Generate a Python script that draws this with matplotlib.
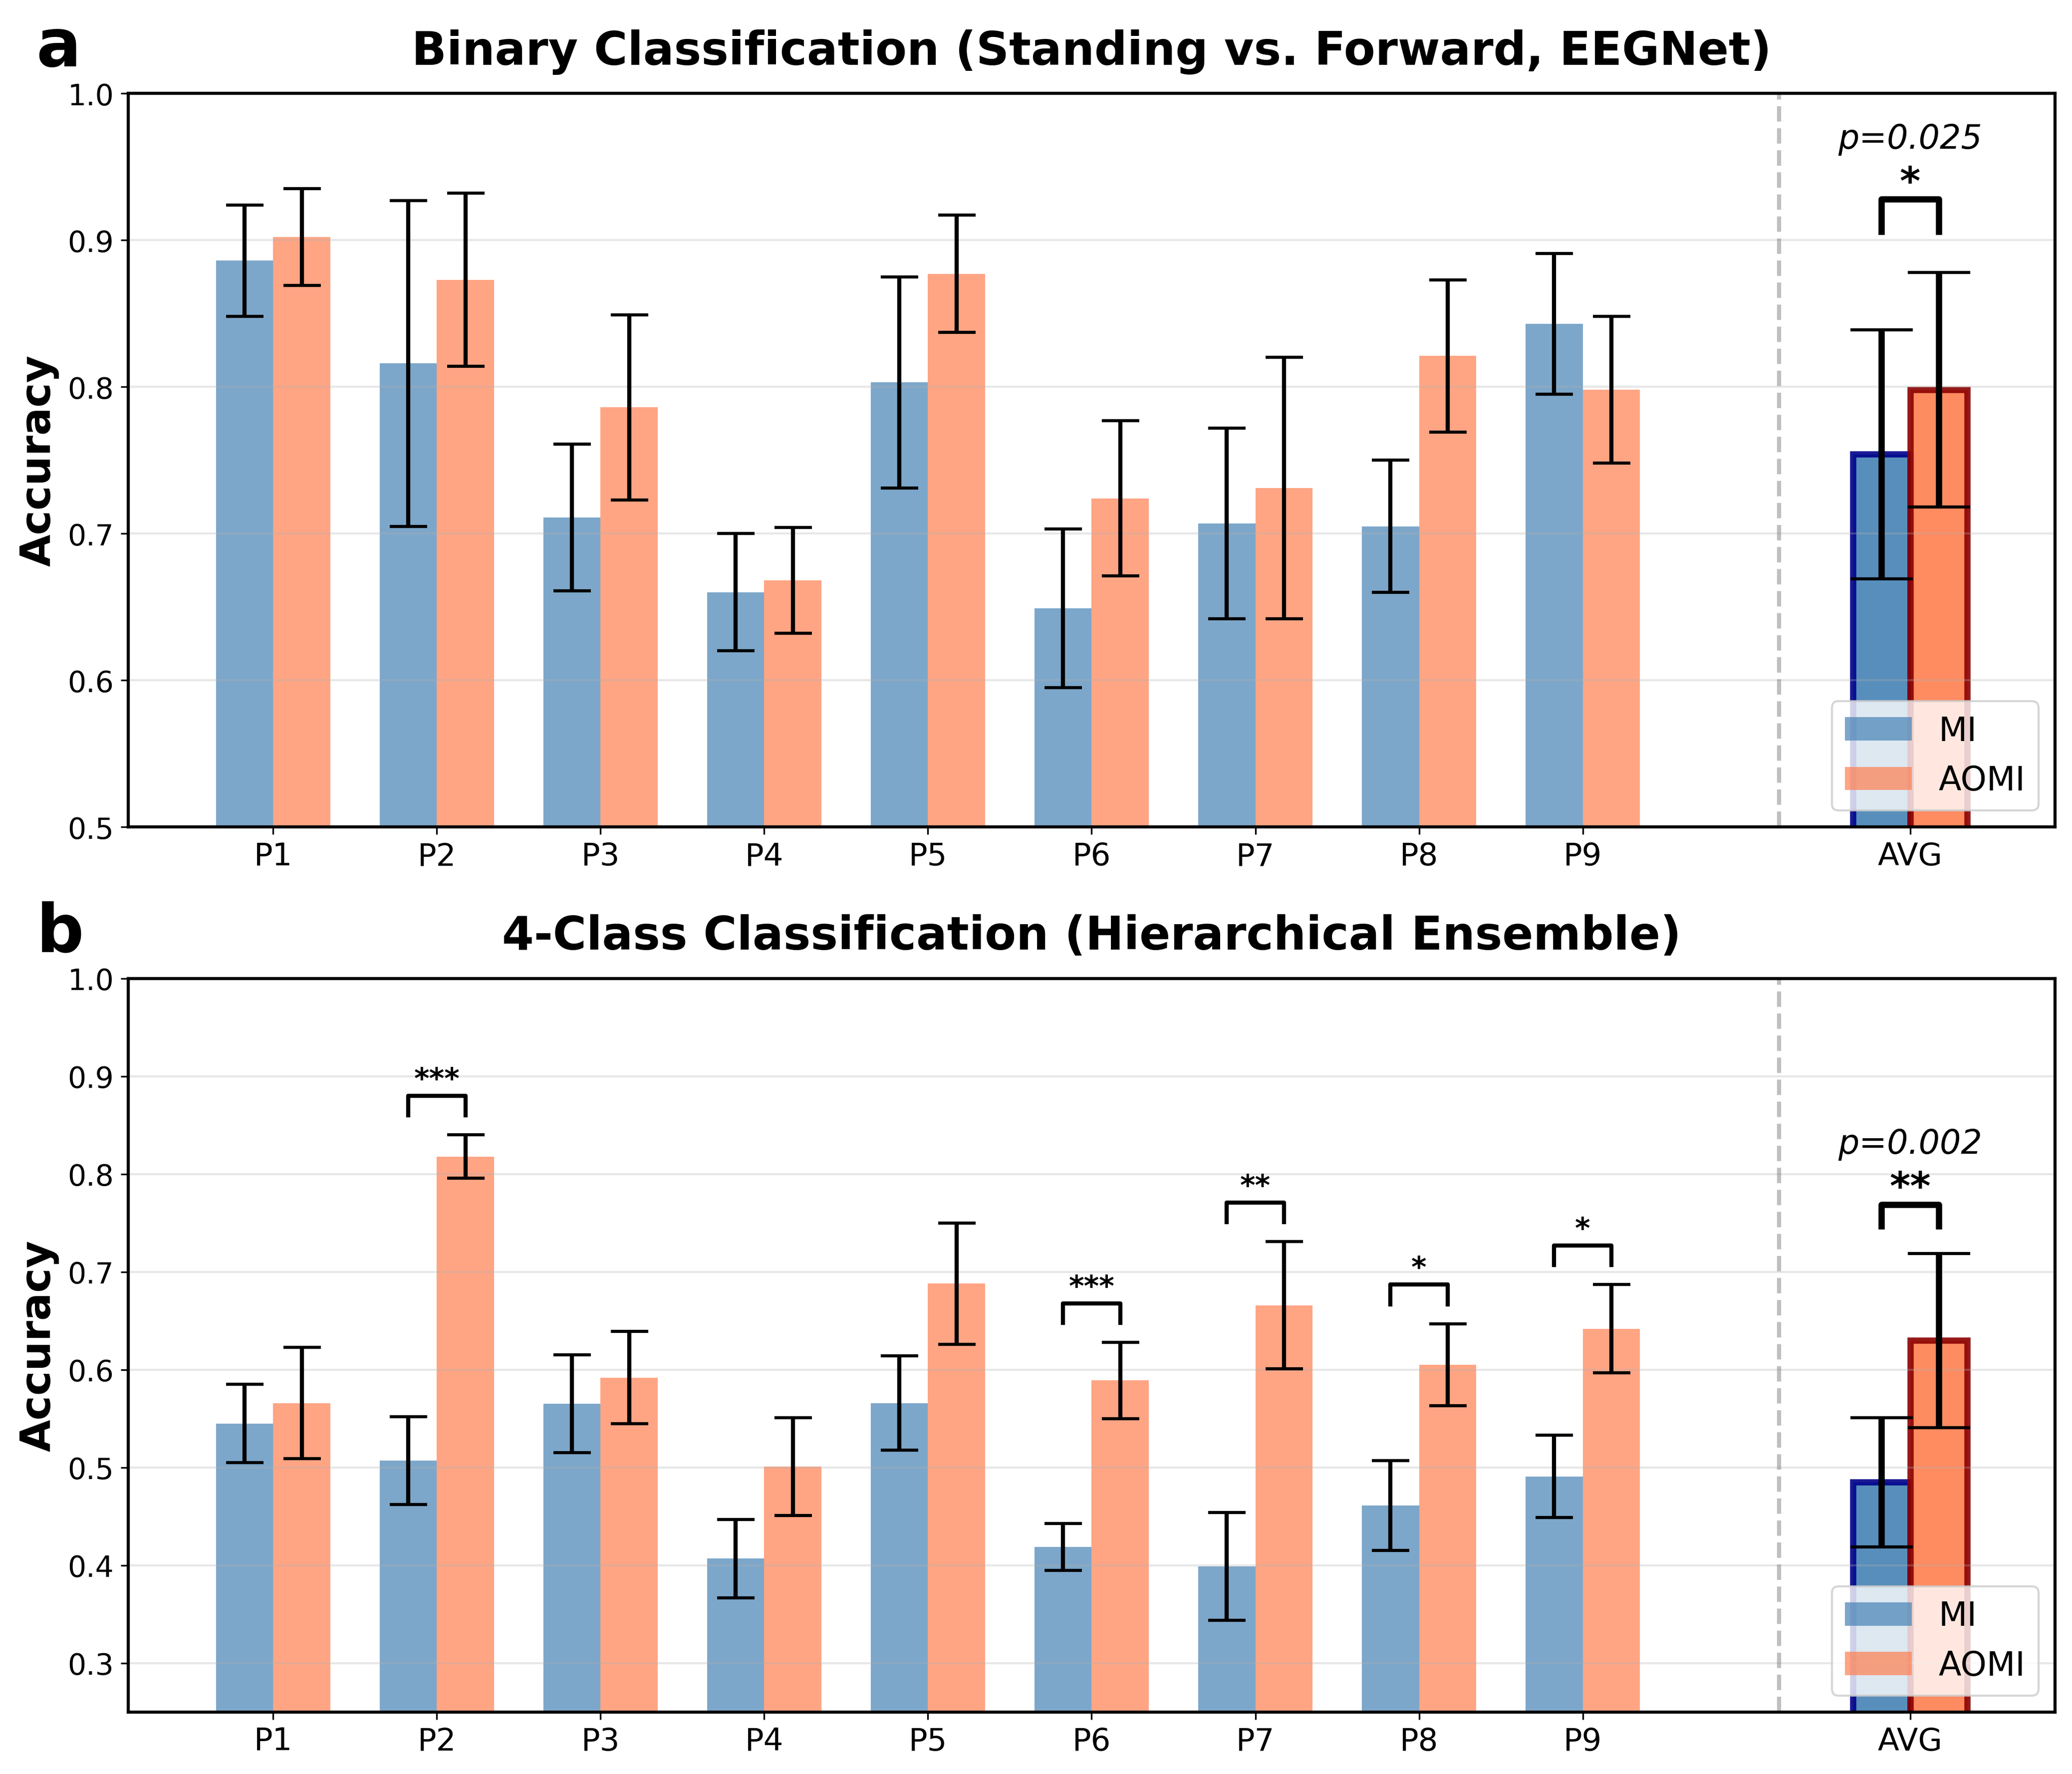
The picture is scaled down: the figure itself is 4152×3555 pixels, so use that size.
import matplotlib
matplotlib.use("Agg")
import matplotlib.pyplot as plt
import numpy as np

participants = ["P1", "P2", "P3", "P4", "P5", "P6", "P7", "P8", "P9"]

# panel a: binary (standing vs forward, EEGNet)
bin_mi = [0.886, 0.816, 0.711, 0.660, 0.803, 0.649, 0.707, 0.705, 0.843]
bin_mi_err = [0.038, 0.111, 0.050, 0.040, 0.072, 0.054, 0.065, 0.045, 0.048]
bin_aomi = [0.902, 0.873, 0.786, 0.668, 0.877, 0.724, 0.731, 0.821, 0.798]
bin_aomi_err = [0.033, 0.059, 0.063, 0.036, 0.040, 0.053, 0.089, 0.052, 0.050]
bin_avg = [0.754, 0.798]
bin_avg_err = [0.085, 0.080]
bin_p = "p=0.025"
bin_avg_star = "*"
bin_stars = ["", "", "", "", "", "", "", "", ""]

# panel b: 4-class (hierarchical ensemble)
four_mi = [0.545, 0.507, 0.565, 0.407, 0.566, 0.419, 0.399, 0.461, 0.491]
four_mi_err = [0.040, 0.045, 0.050, 0.040, 0.048, 0.024, 0.055, 0.046, 0.042]
four_aomi = [0.566, 0.818, 0.592, 0.501, 0.688, 0.589, 0.666, 0.605, 0.642]
four_aomi_err = [0.057, 0.022, 0.047, 0.050, 0.062, 0.039, 0.065, 0.042, 0.045]
four_avg = [0.485, 0.630]
four_avg_err = [0.066, 0.089]
four_p = "p=0.002"
four_avg_star = "**"
four_stars = ["", "***", "", "", "", "***", "**", "*", "*"]

W = 0.35
AVG_X = 10


def draw_panel(ax, mi, mi_err, aomi, aomi_err, avg, avg_err, stars, avg_star, ptxt,
               ylim, yticks, title):
    x = np.arange(len(participants))
    ax.bar(x - W / 2, mi, W, yerr=mi_err, color="steelblue", alpha=0.7, label="MI",
           error_kw=dict(ecolor="black", elinewidth=2, capsize=9, capthick=1.5))
    ax.bar(x + W / 2, aomi, W, yerr=aomi_err, color="coral", alpha=0.7, label="AOMI",
           error_kw=dict(ecolor="black", elinewidth=2, capsize=9, capthick=1.5))

    # average bars
    ax.bar(AVG_X - W / 2, avg[0], W, yerr=avg_err[0], color="steelblue", alpha=0.9,
           edgecolor="darkblue", linewidth=3,
           error_kw=dict(ecolor="black", elinewidth=3, capsize=15, capthick=1.5))
    ax.bar(AVG_X + W / 2, avg[1], W, yerr=avg_err[1], color="coral", alpha=0.9,
           edgecolor="darkred", linewidth=3,
           error_kw=dict(ecolor="black", elinewidth=3, capsize=15, capthick=1.5))

    ax.axvline(9.2, color="gray", linestyle="--", linewidth=2, alpha=0.5)

    # per-participant significance
    for i, s in enumerate(stars):
        if not s:
            continue
        top = max(mi[i] + mi_err[i], aomi[i] + aomi_err[i])
        y0, y1 = top + 0.02, top + 0.04
        ax.plot([i - W / 2, i - W / 2, i + W / 2, i + W / 2], [y0, y1, y1, y0],
                color="black", linewidth=2)
        ax.text(i, y1 + 0.002, s, ha="center", va="bottom", fontsize=14, fontweight="bold")

    # average significance
    top = max(avg[0] + avg_err[0], avg[1] + avg_err[1])
    y0, y1 = top + 0.028, top + 0.05
    ax.plot([AVG_X - W / 2, AVG_X - W / 2, AVG_X + W / 2, AVG_X + W / 2], [y0, y1, y1, y0],
            color="black", linewidth=3)
    rng = ylim[1] - ylim[0]
    ax.text(AVG_X, y1 - 0.002 * rng / 0.5, avg_star, ha="center", va="bottom",
            fontsize=19, fontweight="bold")
    ax.text(AVG_X, y1 + 0.06 * rng, ptxt, ha="center", va="bottom",
            fontsize=16, fontstyle="italic")

    ax.set_ylim(*ylim)
    ax.set_yticks(yticks)
    ax.set_xticks(list(x) + [AVG_X])
    ax.set_xticklabels(participants + ["AVG"])
    ax.tick_params(axis="x", labelsize=15)
    ax.tick_params(axis="y", labelsize=14)
    ax.set_ylabel("Accuracy", fontsize=20, fontweight="bold")
    ax.set_title(title, fontsize=22, fontweight="bold", pad=14)
    ax.grid(axis="y", alpha=0.3, linewidth=1)
    for sp in ax.spines.values():
        sp.set_linewidth(1.5)
    ax.legend(loc="lower right", fontsize=16)


fig = plt.figure(figsize=(13.84, 11.853))
ax1 = fig.add_axes([0.0619, 0.5337, 0.9299, 0.4134])
ax2 = fig.add_axes([0.0619, 0.0349, 0.9299, 0.4134])

draw_panel(ax1, bin_mi, bin_mi_err, bin_aomi, bin_aomi_err, bin_avg, bin_avg_err,
           bin_stars, bin_avg_star, bin_p, (0.5, 1.0), [0.5, 0.6, 0.7, 0.8, 0.9, 1.0],
           "Binary Classification (Standing vs. Forward, EEGNet)")
draw_panel(ax2, four_mi, four_mi_err, four_aomi, four_aomi_err, four_avg, four_avg_err,
           four_stars, four_avg_star, four_p, (0.25, 1.0),
           [0.3, 0.4, 0.5, 0.6, 0.7, 0.8, 0.9, 1.0],
           "4-Class Classification (Hierarchical Ensemble)")

# panel letters
fig.text(0.0175, 0.9626, "a", fontsize=32, fontweight="bold", ha="left", va="baseline")
fig.text(0.0175, 0.4637, "b", fontsize=32, fontweight="bold", ha="left", va="baseline")

fig.savefig("out.png", dpi=300)
